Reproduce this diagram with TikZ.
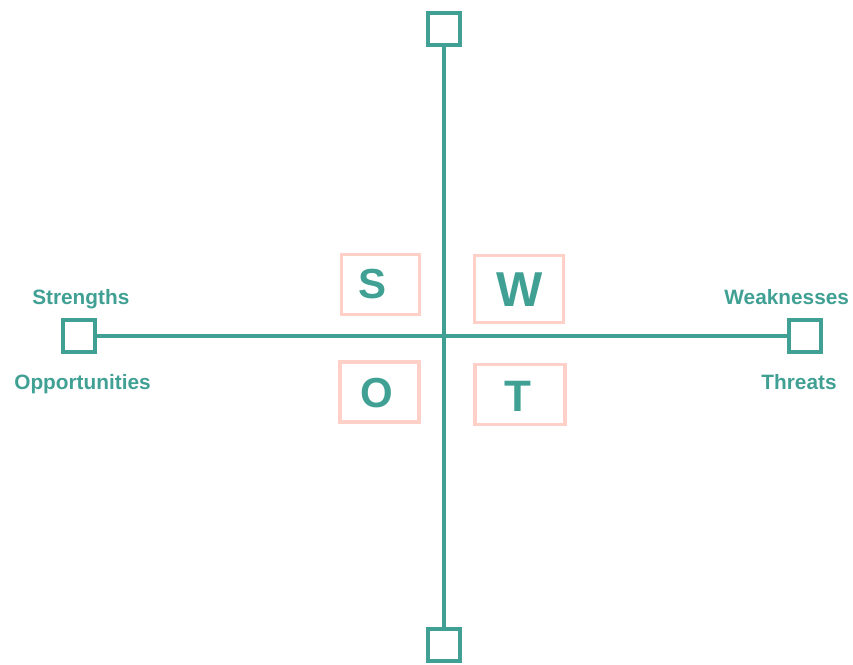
\documentclass[tikz,border=0pt]{standalone}
\usepackage{fontspec}
\setmainfont{Liberation Sans}
\definecolor{swotteal}{RGB}{64,160,148}
\definecolor{swotpink}{RGB}{255,208,200}

\begin{document}
\begin{tikzpicture}[x=1pt, y=-1pt,
  endbox/.style={draw=swotteal, fill=white, line width=4pt, minimum size=32.5pt, inner sep=0pt},
  letterbox/.style={draw=swotpink, line width=3.2pt, inner sep=0pt},
  axis/.style={draw=swotteal, line width=4pt},
  tag/.style={text=swotteal, font=\bfseries\fontsize{20.8}{24}\selectfont, anchor=base, inner sep=0pt}]
  % SWOT cross with end squares

  \useasboundingbox (0,0) rectangle (853,664);

  % End squares
  \node[endbox] (up) at (444,29) {};
  \node[endbox] (down) at (444,645) {};
  \node[endbox] (lt) at (79,336) {};
  \node[endbox] (rt) at (805,336) {};

  % Axes
  \draw[axis] (up) -- (down);
  \draw[axis] (lt) -- (rt);

  % Quadrant boxes
  \node[letterbox, minimum width=78pt, minimum height=60pt] (boxS) at (380.5,284.7) {};
  \node[letterbox, minimum width=89pt, minimum height=67pt] (boxW) at (519.2,289.2) {};
  \node[letterbox, minimum width=79pt, minimum height=60pt] (boxO) at (379.5,392) {};
  \node[letterbox, minimum width=90pt, minimum height=60pt] (boxT) at (520,394.2) {};

  % Letters
  \node[tag, font=\bfseries\fontsize{42}{48}\selectfont] (letS) at (372.7,298.3) {S};
  \node[tag, font=\bfseries\fontsize{49}{56}\selectfont] (letW) at (520,306.7) {W};
  \node[tag, font=\bfseries\fontsize{42}{48}\selectfont] (letO) at (376.7,407.5) {O};
  \node[tag, font=\bfseries\fontsize{44}{50}\selectfont] (letT) at (518,411.7) {T};

  % Labels
  \node[tag] (strengths) at (80.8,304) {Strengths};
  \node[tag] (opport) at (82.5,389) {Opportunities};
  \node[tag] (weak) at (786.7,304.3) {Weaknesses};
  \node[tag] (threats) at (799,389.3) {Threats};
\end{tikzpicture}
\end{document}
